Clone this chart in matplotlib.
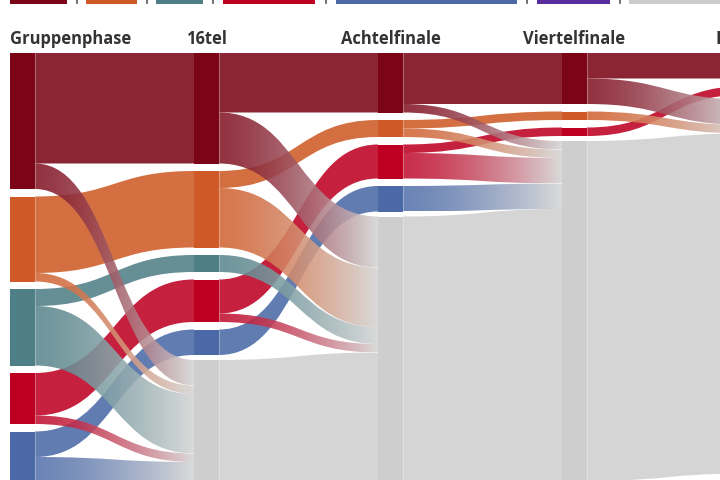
import numpy as np
import matplotlib.pyplot as plt
from matplotlib.path import Path
from matplotlib.patches import PathPatch, Rectangle
from matplotlib.colors import to_rgb

# Runden und Teams je Farbgruppe (letzte Gruppe: ausgeschieden)
stages = ['Gruppenphase', '16tel', 'Achtelfinale', 'Viertelfinale', 'Halbfinale']
groups = ['dunkelrot', 'orange', 'petrol', 'rot', 'blau', 'lila', 'ausgeschieden']
node_colors = ['#7b0517', '#cf5a27', '#4f7f86', '#bd0022', '#4a69a6', '#5a2d9e', '#cecece']

gruppenphase = [16, 10, 9, 6, 6, 1, 0]
sechzehntel = [13, 9, 2, 5, 3, 0, 16]
achtelfinale = [7, 2, 0, 4, 3, 0, 32]
viertelfinale = [6, 1, 0, 1, 0, 0, 40]
halbfinale = [3, 0, 0, 1, 0, 0, 44]
counts = [gruppenphase, sechzehntel, achtelfinale, viertelfinale, halbfinale]

legend_spans = [(10, 67), (86, 137), (156, 203), (223, 315), (336, 517), (537, 610), (629, 730)]
legend_colors = ['#7b0517', '#cf5a27', '#4f7f86', '#bd0022', '#4a69a6', '#5a2d9e', '#cccccc']

GREY = len(groups) - 1
PX = 8.5          # pixel pro team
TOP = 53
GAP = 7.5
NODE_W = 25
X0, STEP = 10, 184
LINK_ALPHA = 0.94

fig = plt.figure(figsize=(7.2, 4.8), dpi=100)
ax = fig.add_axes([0, 0, 1, 1])
ax.set_xlim(0, 720)
ax.set_ylim(480, 0)
ax.axis('off')
ax.set_autoscale_on(False)


def layout(stage_counts):
    pos = {}
    y = TOP
    for g, n in enumerate(stage_counts):
        if n == 0:
            continue
        if g == GREY:
            y -= 2.5
        pos[g] = [y, y + n * PX]
        y += n * PX + GAP
    return pos


nodes = [layout(c) for c in counts]


def link_path(xs, xt, ys0, ys1, yt0, yt1):
    xm = (xs + xt) / 2
    verts = [(xs, ys0), (xm, ys0), (xm, yt0), (xt, yt0),
             (xt, yt1), (xm, yt1), (xm, ys1), (xs, ys1), (xs, ys0)]
    codes = [Path.MOVETO, Path.CURVE4, Path.CURVE4, Path.CURVE4,
             Path.LINETO, Path.CURVE4, Path.CURVE4, Path.CURVE4, Path.CLOSEPOLY]
    return Path(verts, codes)


def light(c, f=0.1):
    r = np.array(to_rgb(c))
    return r + (1 - r) * f


grey_rgb = np.array(to_rgb('#d5d5d5'))

for i in range(len(stages) - 1):
    cur, nxt = counts[i], counts[i + 1]
    src_nodes, tgt_nodes = nodes[i], nodes[i + 1]
    xs = X0 + STEP * i + NODE_W
    xt = X0 + STEP * (i + 1)
    out_cur = {g: src_nodes[g][0] for g in src_nodes}
    in_cur = {g: tgt_nodes[g][0] for g in tgt_nodes}
    for g in range(len(groups)):
        if cur[g] == 0:
            continue
        if g == GREY:
            flows = [(GREY, cur[g])]
        else:
            flows = [(g, nxt[g]), (GREY, cur[g] - nxt[g])]
        for tgt, n in flows:
            if n <= 0:
                continue
            h = n * PX
            ys0 = out_cur[g]
            yt0 = in_cur[tgt]
            out_cur[g] += h
            in_cur[tgt] += h
            path = link_path(xs, xt, ys0, ys0 + h, yt0, yt0 + h)
            base = light(node_colors[g], 0.07)
            if g == GREY:
                ax.add_patch(PathPatch(path, facecolor=grey_rgb, edgecolor='none', zorder=1))
            elif tgt == g:
                ax.add_patch(PathPatch(path, facecolor=base, edgecolor='none',
                                       alpha=LINK_ALPHA, zorder=2))
            else:
                patch = PathPatch(path, facecolor='none', edgecolor='none')
                ax.add_patch(patch)
                t = np.linspace(0, 1, 256)[:, None] ** 1.4
                rgb = base * (1 - t) + grey_rgb * t
                img = np.concatenate([rgb, np.full((256, 1), LINK_ALPHA - 0.06)], axis=1)[None]
                ymin = min(ys0, yt0)
                ymax = max(ys0, yt0) + h
                im = ax.imshow(img, extent=(xs, xt, ymax, ymin), aspect='auto',
                               interpolation='bilinear', zorder=3)
                im.set_clip_path(patch)

# Knoten
for i, pos in enumerate(nodes):
    x = X0 + STEP * i
    for g, (y0, y1) in pos.items():
        ax.add_patch(Rectangle((x, y0), NODE_W, y1 - y0, facecolor=node_colors[g],
                               edgecolor='none', zorder=5))
        ax.plot([x + NODE_W, x + NODE_W], [y0, y1], color='white', lw=0.8,
                alpha=0.3, zorder=6)

# Spaltenköpfe
for i, name in enumerate(stages):
    cx = X0 + STEP * i + NODE_W / 2
    ax.text(X0 if i == 0 else cx, 43.5, name, ha='left' if i == 0 else 'center',
            va='baseline', fontsize=11.9, fontweight='bold', color='#333333',
            family='Open Sans')

# Legende (nur unterer Rand sichtbar)
for (a, b), c in zip(legend_spans, legend_colors):
    ax.add_patch(Rectangle((a, -2), b - a, 5.5, facecolor=c, edgecolor='none', zorder=5))
for (a, b), (c, d) in zip(legend_spans[:-1], legend_spans[1:]):
    m = (b + c) / 2
    ax.plot([m, m], [0, 3], color='#555555', lw=1.2, zorder=5)

fig.savefig('out.png', dpi=100)
